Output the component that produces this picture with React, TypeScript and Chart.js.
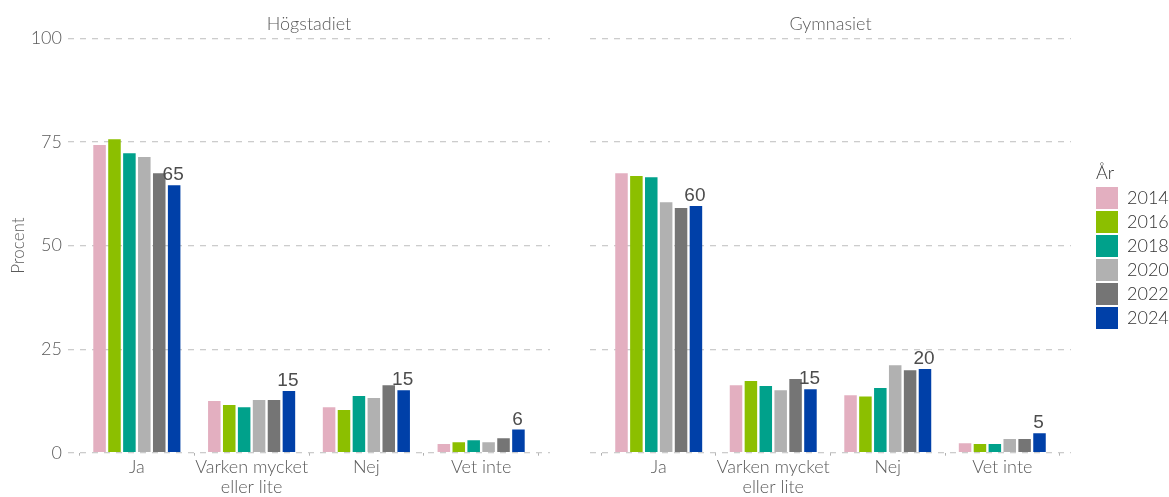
import React, { useEffect, useRef } from 'react';
import { Chart, registerables } from 'chart.js';
Chart.register(...registerables);

const categories = ['Ja', 'Varken mycket eller lite', 'Nej', 'Vet inte'];
const categoryTickLabels = [['Ja'], ['Varken mycket', 'eller lite'], ['Nej'], ['Vet inte']];
const years = ['2014', '2016', '2018', '2020', '2022', '2024'];
const yearColors = ['#e3afc0', '#8cbf00', '#00a18b', '#b1b1b1', '#757575', '#0040a8'];
const panelTitles = ['Högstadiet', 'Gymnasiet'];
const yTickValues = [0, 25, 50, 75, 100];
const yAxisTitle = 'Procent';
const legendTitle = 'År';

// Högstadiet, one array per year, in category order
const hog2014 = [74.3, 12.5, 11.0, 2.1];
const hog2016 = [75.7, 11.5, 10.3, 2.5];
const hog2018 = [72.3, 11.0, 13.7, 3.0];
const hog2020 = [71.4, 12.7, 13.2, 2.5];
const hog2022 = [67.5, 12.7, 16.3, 3.5];
const hog2024 = [64.6, 14.9, 15.1, 5.6];

// Gymnasiet
const gym2014 = [67.5, 16.3, 13.9, 2.3];
const gym2016 = [66.8, 17.3, 13.6, 2.1];
const gym2018 = [66.5, 16.1, 15.6, 2.1];
const gym2020 = [60.5, 15.1, 21.1, 3.3];
const gym2022 = [59.1, 17.8, 19.9, 3.3];
const gym2024 = [59.6, 15.3, 20.2, 4.7];

const hogSeries = [hog2014, hog2016, hog2018, hog2020, hog2022, hog2024];
const gymSeries = [gym2014, gym2016, gym2018, gym2020, gym2022, gym2024];

const FONT = 'Lato, "Open Sans", sans-serif';
const TEXT = '#5a5a5a';
const H = 497;

const dataLabelPlugin = {
  id: 'lastLabels',
  afterDatasetsDraw(chart: any) {
    const ctx = chart.ctx;
    const last = chart.data.datasets.length - 1;
    const meta = chart.getDatasetMeta(last);
    ctx.save();
    ctx.font = '19px "Liberation Sans", Arial, sans-serif';
    ctx.fillStyle = '#4d4d4d';
    ctx.textAlign = 'center';
    ctx.textBaseline = 'alphabetic';
    meta.data.forEach((bar: any, i: number) => {
      const raw = chart.data.datasets[last].data[i];
      ctx.fillText(String(Math.round(raw.y)), bar.x - 1, bar.y - 5);
    });
    ctx.restore();
  },
};

const legendPlugin = {
  id: 'sideLegend',
  afterDraw(chart: any) {
    if (!chart.options.plugins.sideLegend?.show) return;
    const ctx = chart.ctx;
    const x0 = chart.chartArea.right + 25;
    ctx.save();
    ctx.font = `300 18px ${FONT}`;
    ctx.fillStyle = '#333333';
    ctx.textAlign = 'left';
    ctx.textBaseline = 'alphabetic';
    ctx.fillText(legendTitle, x0, 179);
    chart.data.datasets.forEach((ds: any, i: number) => {
      const y = 187 + i * 24;
      ctx.fillStyle = ds.backgroundColor;
      ctx.fillRect(x0, y, 22, 22);
      ctx.fillStyle = '#333333';
      ctx.font = `300 18px ${FONT}`;
      ctx.textBaseline = 'middle';
      ctx.fillText(ds.label, x0 + 31, y + 11.5);
    });
    ctx.restore();
  },
};

function makeConfig(title: string, series: number[][], left: boolean): any {
  return {
    type: 'bar',
    data: {
      datasets: years.map((yr, k) => ({
        label: yr,
        data: series[k].map((v, i) => ({ x: i, y: v })),
        backgroundColor: yearColors[k],
        borderWidth: 0,
        categoryPercentage: 0.78,
        barPercentage: 0.84,
      })),
    },
    options: {
      responsive: false,
      animation: false,
      devicePixelRatio: 1,
      layout: { padding: { left: left ? 0 : 20, right: left ? 20 : 98, top: 0, bottom: 0 } },
      plugins: {
        legend: { display: false },
        tooltip: { enabled: false },
        title: {
          display: true,
          text: title,
          fullSize: false,
          color: TEXT,
          font: { family: FONT, size: 18, weight: 300 },
          padding: { top: 13, bottom: 4 },
        },
        sideLegend: { show: !left },
      },
      scales: {
        x: {
          type: 'linear',
          min: -0.6,
          max: 3.6,
          offset: false,
          border: { display: false },
          grid: { display: true, drawOnChartArea: false, drawTicks: true, tickLength: 3, color: '#b0b0b0' },
          ticks: {
            stepSize: 1,
            includeBounds: false,
            autoSkip: false,
            maxRotation: 0,
            padding: 2,
            color: TEXT,
            font: { family: FONT, size: 18, weight: 300, lineHeight: 1.1 },
            callback: (v: number) => (Number.isInteger(v) && v >= 0 && v < categories.length ? categoryTickLabels[v] : ''),
          },
          afterFit: (s: any) => { s.height = 44.3; },
        },
        y: {
          min: 0,
          max: 100,
          border: { display: false, dash: [6, 6] },
          grid: { color: '#cccccc', lineWidth: 1.3, drawTicks: false },
          ticks: {
            display: left,
            stepSize: 25,
            padding: 6,
            color: TEXT,
            font: { family: FONT, size: 18, weight: 300 },
            callback: (v: number) => (yTickValues.includes(v) ? String(v) : ''),
          },
          title: {
            display: left,
            text: yAxisTitle,
            color: TEXT,
            font: { family: FONT, size: 17, weight: 300 },
            padding: { top: 8, bottom: 0 },
          },
          afterFit: (s: any) => { s.width = left ? 68 : 0; },
        },
      },
    },
    plugins: [dataLabelPlugin, legendPlugin],
  };
}

export default function App() {
  const leftRef = useRef<HTMLCanvasElement>(null);
  const rightRef = useRef<HTMLCanvasElement>(null);
  useEffect(() => {
    document.body.style.margin = '0';
    const c1 = new Chart(leftRef.current as HTMLCanvasElement, makeConfig(panelTitles[0], hogSeries, true));
    const c2 = new Chart(rightRef.current as HTMLCanvasElement, makeConfig(panelTitles[1], gymSeries, false));
    return () => { c1.destroy(); c2.destroy(); };
  }, []);
  return (
    <div style={{ position: 'absolute', left: 0, top: 0, width: 1169, height: H, background: '#fff' }}>
      <canvas ref={leftRef} width={570} height={H} style={{ position: 'absolute', left: 0, top: 0, width: 570, height: H }} />
      <canvas ref={rightRef} width={599} height={H} style={{ position: 'absolute', left: 570, top: 0, width: 599, height: H }} />
    </div>
  );
}
